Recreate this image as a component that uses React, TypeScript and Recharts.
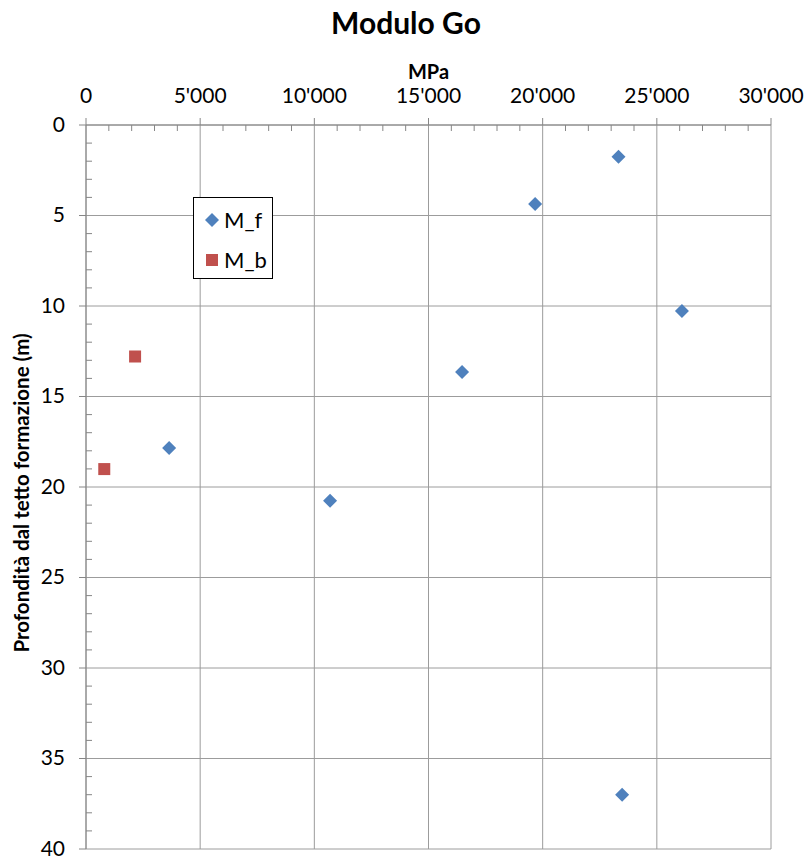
import React from "react";
import {
  ScatterChart,
  Scatter,
  XAxis,
  YAxis,
  CartesianGrid,
  Legend,
  Label,
} from "recharts";

const chartTitle = "Modulo Go";
const xTitle = "MPa";
const yTitle = "Profondità dal tetto formazione (m)";
const seriesNames = ["M_f", "M_b"];

const mfX = [23320, 19670, 26100, 16470, 3640, 10690, 23480];
const mfY = [1.75, 4.36, 10.27, 13.64, 17.85, 20.76, 37.0];
const mbX = [2150, 800];
const mbY = [12.79, 19.01];

const xMajor = [0, 5000, 10000, 15000, 20000, 25000, 30000];
const xAll = [
  0, 1000, 2000, 3000, 4000, 5000, 6000, 7000, 8000, 9000, 10000, 11000, 12000,
  13000, 14000, 15000, 16000, 17000, 18000, 19000, 20000, 21000, 22000, 23000,
  24000, 25000, 26000, 27000, 28000, 29000, 30000,
];
const yMajor = [0, 5, 10, 15, 20, 25, 30, 35, 40];
const yAll = [
  0, 1, 2, 3, 4, 5, 6, 7, 8, 9, 10, 11, 12, 13, 14, 15, 16, 17, 18, 19, 20, 21,
  22, 23, 24, 25, 26, 27, 28, 29, 30, 31, 32, 33, 34, 35, 36, 37, 38, 39, 40,
];

const mfData = mfX.map((x, i) => ({ x, y: mfY[i] }));
const mbData = mbX.map((x, i) => ({ x, y: mbY[i] }));

const FONT = "Lato, 'Open Sans', sans-serif";
const AXIS = "#868686";
const GRID = "#9c9c9c";
const BLUE = "#4F81BD";
const RED = "#C0504D";

const fmt = (v: number) => {
  if (v === 0) return "0";
  const s = String(v);
  return s.replace(/\B(?=(\d{3})+(?!\d))/g, "'");
};

const XTick = (props: any) => {
  const { x, y, payload } = props;
  const v = payload.value;
  if (v % 5000 === 0) {
    return (
      <g>
        <line x1={x} y1={y - 7} x2={x} y2={y} stroke={AXIS} />
        <text
          x={x}
          y={y - 22}
          textAnchor="middle"
          fontSize={21}
          fontFamily={FONT}
          fill="#000"
        >
          {fmt(v)}
        </text>
      </g>
    );
  }
  return <line x1={x} y1={y} x2={x} y2={y + 6} stroke={AXIS} />;
};

const YTick = (props: any) => {
  const { x, y, payload } = props;
  const v = payload.value;
  if (v % 5 === 0) {
    return (
      <g>
        <line x1={x - 7} y1={y} x2={x} y2={y} stroke={AXIS} />
        <text
          x={x - 21}
          y={y + 6.5}
          textAnchor="end"
          fontSize={21}
          fontFamily={FONT}
          fill="#000"
        >
          {v}
        </text>
      </g>
    );
  }
  return <line x1={x} y1={y} x2={x + 6} y2={y} stroke={AXIS} />;
};

const Diamond = (props: any) => {
  const { cx, cy } = props;
  const r = 7;
  return (
    <polygon
      points={`${cx},${cy - r} ${cx + r},${cy} ${cx},${cy + r} ${cx - r},${cy}`}
      fill={BLUE}
    />
  );
};

const Square = (props: any) => {
  const { cx, cy } = props;
  return <rect x={cx - 6} y={cy - 6} width={12} height={12} fill={RED} />;
};

const XLabel = (props: any) => {
  const vb = props.viewBox;
  return (
    <g>
      <text
        x={406}
        y={34}
        textAnchor="middle"
        fontSize={30}
        fontWeight="bold"
        fontFamily={FONT}
        fill="#000"
      >
        {chartTitle}
      </text>
      <text
        x={vb.x + vb.width / 2}
        y={vb.y + 13.5}
        textAnchor="middle"
        fontSize={20}
        fontWeight="bold"
        fontFamily={FONT}
        fill="#000"
      >
        {xTitle}
      </text>
    </g>
  );
};

const YLabel = (props: any) => {
  const vb = props.viewBox;
  const cx = vb.x - 7;
  const cy = vb.y + vb.height / 2 + 6;
  return (
    <text
      x={cx}
      y={cy}
      transform={`rotate(-90, ${cx}, ${cy})`}
      textAnchor="middle"
      fontSize={20.5}
      fontWeight="bold"
      fontFamily={FONT}
      fill="#000"
    >
      {yTitle}
    </text>
  );
};

const LegendBox = (props: any) => {
  const payload = [...(props.payload || [])].sort(
    (a: any, b: any) => seriesNames.indexOf(a.value) - seriesNames.indexOf(b.value)
  );
  return (
    <div
      style={{
        position: "relative",
        width: 78,
        height: 80,
        border: "1px solid #000",
        background: "#fff",
        fontFamily: FONT,
        fontSize: 22,
        color: "#000",
      }}
    >
      {payload.map((p: any, i: number) => (
        <div
          key={p.value}
          style={{
            position: "absolute",
            left: 8,
            top: 9 + i * 40,
            height: 26,
            display: "flex",
            alignItems: "center",
            lineHeight: "26px",
          }}
        >
          <svg width={20} height={20} style={{ marginRight: 2 }}>
            {p.value === seriesNames[0] ? (
              <polygon points="10,3 17,10 10,17 3,10" fill={BLUE} />
            ) : (
              <rect x={4} y={4} width={12} height={12} fill={RED} />
            )}
          </svg>
          <span>{p.value}</span>
        </div>
      ))}
    </div>
  );
};

export default function App() {
  return (
    <div style={{ position: "absolute", left: 0, top: 0, width: 805, height: 858, background: "#fff" }}>
      <ScatterChart
        width={805}
        height={858}
        margin={{ top: 65, right: 34, bottom: 9, left: 36 }}
      >
        <CartesianGrid
          stroke={GRID}
          verticalValues={xMajor}
          horizontalValues={yMajor}
        />
        <XAxis
          type="number"
          dataKey="x"
          orientation="top"
          domain={[0, 30000]}
          ticks={xAll}
          interval={0}
          height={60}
          tickSize={0}
          tickMargin={0}
          tickLine={false}
          axisLine={{ stroke: AXIS }}
          tick={XTick}
          allowDataOverflow
        >
          <Label content={XLabel} />
        </XAxis>
        <YAxis
          type="number"
          dataKey="y"
          reversed
          domain={[0, 40]}
          ticks={yAll}
          interval={0}
          width={50}
          tickSize={0}
          tickMargin={0}
          tickLine={false}
          axisLine={{ stroke: AXIS }}
          tick={YTick}
          allowDataOverflow
        >
          <Label content={YLabel} />
        </YAxis>
        <Legend
          layout="horizontal"
          verticalAlign="middle"
          align="center"
          content={LegendBox}
          wrapperStyle={{ position: "absolute", left: 193, top: 197, width: 80, height: 82 }}
        />
        <Scatter name={seriesNames[0]} data={mfData} fill={BLUE} shape={Diamond} isAnimationActive={false} />
        <Scatter name={seriesNames[1]} data={mbData} fill={RED} shape={Square} isAnimationActive={false} />
      </ScatterChart>
    </div>
  );
}
